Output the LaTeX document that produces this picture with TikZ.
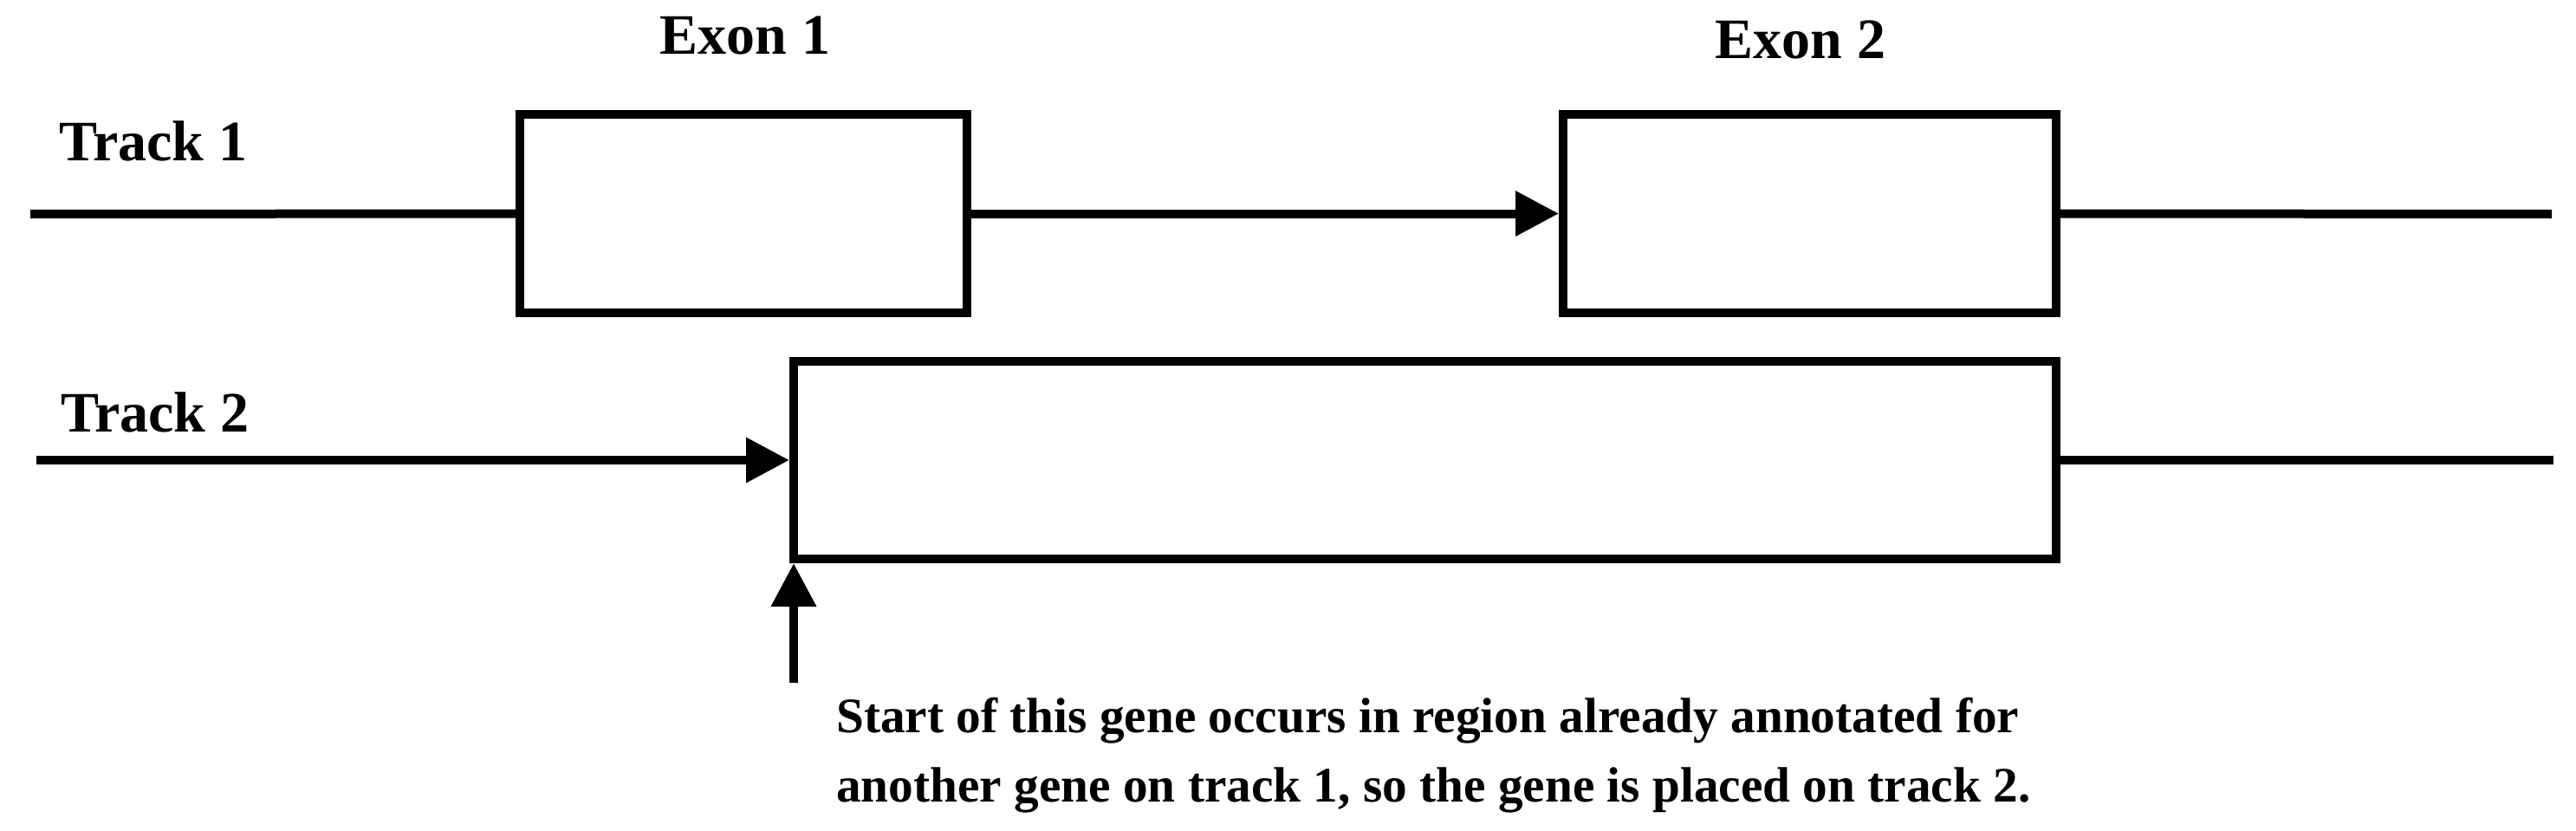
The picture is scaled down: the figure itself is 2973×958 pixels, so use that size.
\documentclass[tikz,border=0pt]{standalone}
\usepackage{fontspec}
\setmainfont{Liberation Serif}
\usetikzlibrary{arrows.meta}
\begin{document}
\begin{tikzpicture}[x=1pt,y=-1pt,
  exonbox/.style={draw=black,line width=10pt,rectangle,inner sep=0pt,fill=white},
  trackline/.style={draw=black,line width=10pt},
  bigtip/.style={-{Triangle[length=50pt,width=50pt]}},
  lbl/.style={inner sep=0pt,font=\fontsize{66}{76}\selectfont\bfseries},
  note/.style={inner sep=0pt,align=left,font=\fontsize{57.3}{80}\selectfont\bfseries}]
\useasboundingbox[fill=white] (0,0) rectangle (2973,958);

% labels
\node[lbl,anchor=base] (ex1) at (860,63) {Exon 1};
\node[lbl,anchor=base] (ex2) at (2078,67) {Exon 2};
\node[lbl,anchor=base west] (t1) at (68,185) {Track 1};
\node[lbl,anchor=base west] (t2) at (70,498) {Track 2};

% track 1
\node[exonbox,minimum width=516pt,minimum height=229pt] (e1) at (858,246.5) {};
\node[exonbox,minimum width=569pt,minimum height=229pt] (e2) at (2088.5,246.5) {};
\coordinate (t1s) at (35,247);
\coordinate (t1e) at (2945,247);
\draw[trackline] (t1s) -- (e1.west);
\draw[trackline,bigtip] (e1.east) -- (e2.west);
\draw[trackline] (e2.east) -- (t1e);

% track 2
\node[exonbox,minimum width=1457pt,minimum height=228pt] (g2) at (1644.5,531) {};
\coordinate (t2s) at (42,531);
\coordinate (t2e) at (2947,531);
\draw[trackline,bigtip] (t2s) -- (g2.west);
\draw[trackline] (g2.east) -- (t2e);

% start arrow
\coordinate (st) at (916,788);
\draw[trackline,bigtip] (st) -- (st |- g2.south);

\node[note,anchor=base west] (txt) at (965,925) {Start of this gene occurs in region already annotated for\\another gene on track 1, so the gene is placed on track 2.};
\end{tikzpicture}
\end{document}
